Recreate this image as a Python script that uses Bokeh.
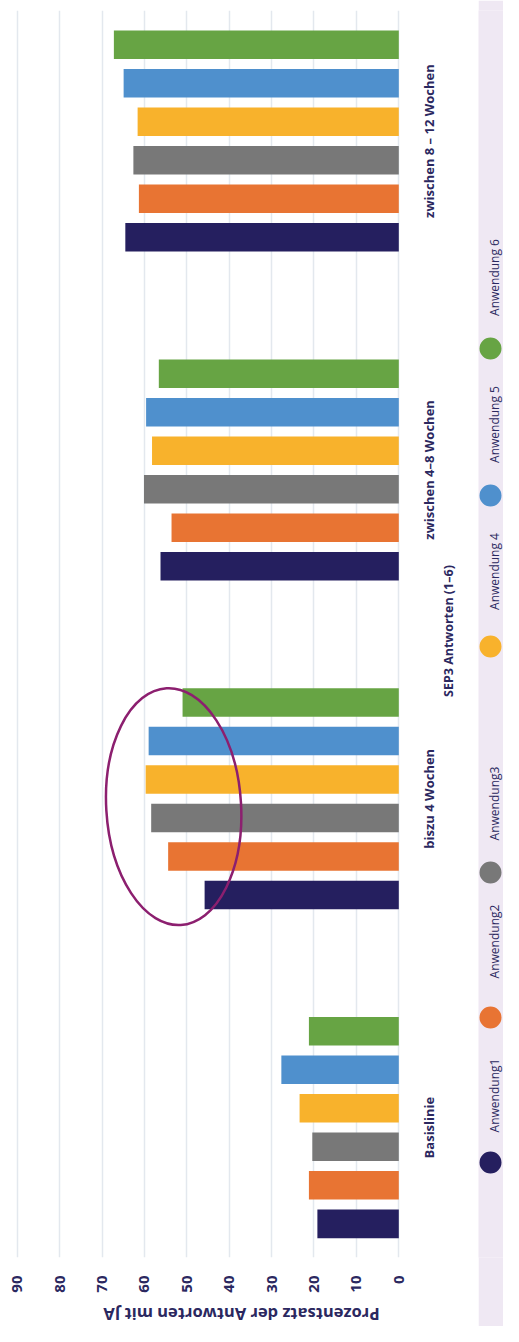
import math
from bokeh.plotting import figure
from bokeh.models import Range1d, FixedTicker, ColumnDataSource
from bokeh.layouts import row, column
from bokeh.embed import file_html
from bokeh.resources import INLINE
from bokeh.core.properties import value

# ---------------- data ----------------
categories = ["Basislinie", "biszu 4 Wochen", "zwischen 4–8 Wochen", "zwischen 8 – 12 Wochen"]
series_names = ["Anwendung1", "Anwendung2", "Anwendung3", "Anwendung 4", "Anwendung 5", "Anwendung 6"]
anwendung1 = [19.2, 45.8, 56.2, 64.5]
anwendung2 = [21.2, 54.4, 53.6, 61.3]
anwendung3 = [20.4, 58.4, 60.1, 62.6]
anwendung4 = [23.4, 59.7, 58.2, 61.6]
anwendung5 = [27.7, 59.0, 59.6, 64.9]
anwendung6 = [21.2, 51.0, 56.6, 67.2]
value_ticks = [0, 10, 20, 30, 40, 50, 60, 70, 80, 90]
x_title = "SEP3  Antworten (1–6)"
y_title = "Prozentsatz der Antworten mit JA"

# ---------------- styles / layout ----------------
series_values = [anwendung1, anwendung2, anwendung3, anwendung4, anwendung5, anwendung6]
colors = ["#251f5f", "#e87433", "#787878", "#f8b22c", "#4f90cd", "#67a444"]
TEXT = "#2b2860"
LAVENDER = "#efe8f3"
FONT = "Open Sans"

BAR_STEP = 0.1171
BAR_H = 0.0867
TOP_B, BOT_B = 10, 45
ROW_H = 1302
BOTTOM_H = 24
y_rng = Range1d(-0.395, 3.397)

# ---------------- main plot ----------------
p = figure(width=410, height=ROW_H, output_backend="svg", toolbar_location=None,
           x_range=Range1d(93.94, -2.76), y_range=y_rng, y_axis_type=None,
           min_border=0, min_border_left=0, min_border_top=TOP_B, min_border_right=0,
           min_border_bottom=BOT_B)
p.background_fill_color = "white"
p.border_fill_color = "white"
p.outline_line_color = None

for i, (name, vals, col) in enumerate(zip(series_names, series_values, colors)):
    ys = [g + (i - 2.5) * BAR_STEP for g in range(len(categories))]
    src = ColumnDataSource(dict(y=ys, v=vals))
    p.hbar(y="y", left=0, right="v", height=BAR_H, source=src,
           fill_color=col, line_color=None)

# highlight ellipse around "biszu 4 Wochen"
hl_group = categories.index("biszu 4 Wochen")
p.ellipse(x=[53.1], y=[hl_group - 0.024], width=[31.8], height=[0.721], angle=0.06,
          fill_color=None, line_color="#8c1f6f", line_width=2.5)

# value axis (bottom)
p.xaxis.ticker = FixedTicker(ticks=value_ticks)
p.xgrid.ticker = FixedTicker(ticks=value_ticks)
p.xaxis.major_label_orientation = math.pi / 2
p.xaxis.major_label_text_font = FONT
p.xaxis.major_label_text_font_size = "15px"
p.xaxis.major_label_text_font_style = "bold"
p.xaxis.major_label_text_color = TEXT
p.xaxis.major_label_standoff = 12
p.xaxis.axis_line_color = None
p.xaxis.major_tick_line_color = None
p.xaxis.minor_tick_line_color = None
p.xgrid.grid_line_color = "#e3e8ee"
p.xgrid.grid_line_width = 1.5

# ---------------- category label strip (shares the y scale) ----------------
cat = figure(width=68, height=ROW_H, output_backend="svg", toolbar_location=None,
             x_range=Range1d(410, 478), y_range=y_rng,
             x_axis_type=None, y_axis_type=None, min_border=0,
             min_border_left=0, min_border_right=0, min_border_top=TOP_B,
             min_border_bottom=BOT_B)
cat.background_fill_color = "white"
cat.border_fill_color = "white"
cat.outline_line_color = None
cat.grid.visible = False
cat.text(x=[428] * len(categories), y=list(range(len(categories))), text=categories,
         angle=math.pi / 2, text_align="center", text_baseline="middle",
         text_font=value(FONT), text_font_size="13px", text_font_style="bold",
         text_color=TEXT)
cat.text(x=[448], y=[1.515], text=[x_title], angle=math.pi / 2,
         text_align="center", text_baseline="middle",
         text_font=value(FONT), text_font_size="12.5px", text_font_style="bold",
         text_color=TEXT)

# ---------------- bottom strip with the value-axis title ----------------
bt = figure(width=478, height=BOTTOM_H, output_backend="svg", toolbar_location=None,
            x_range=Range1d(0, 478), y_range=Range1d(ROW_H + BOTTOM_H, ROW_H),
            x_axis_type=None, y_axis_type=None, min_border=0,
            min_border_left=0, min_border_right=0, min_border_top=0, min_border_bottom=0)
bt.background_fill_color = "white"
bt.border_fill_color = "white"
bt.outline_line_color = None
bt.grid.visible = False
bt.text(x=[241], y=[ROW_H + BOTTOM_H / 2], text=[y_title], angle=math.pi,
        text_align="center", text_baseline="middle",
        text_font=value(FONT), text_font_size="16.5px", text_font_style="bold",
        text_color=TEXT)

# ---------------- legend strip (full height) ----------------
lg = figure(width=25, height=ROW_H + BOTTOM_H, output_backend="svg", toolbar_location=None,
            x_range=Range1d(478, 503), y_range=Range1d(1257, 10),
            x_axis_type=None, y_axis_type=None, min_border=0,
            min_border_left=0, min_border_right=0, min_border_top=TOP_B,
            min_border_bottom=BOT_B + BOTTOM_H)
lg.background_fill_color = LAVENDER
lg.border_fill_color = LAVENDER
lg.outline_line_color = None
lg.grid.visible = False

legend_marker_y = [1162, 1017, 872, 646, 495, 348]
legend_text_y = [1095, 941, 803, 571, 424, 277]
lg.scatter(x=[490] * 6, y=legend_marker_y, size=22, marker="circle",
           fill_color=colors, line_color=None)
lg.text(x=[494] * 6, y=legend_text_y, text=series_names, angle=math.pi / 2,
        text_align="center", text_baseline="alphabetic",
        text_font=value(FONT), text_font_size="12px", text_color=TEXT)

layout = row(column(row(p, cat, spacing=0), bt, spacing=0), lg, spacing=0)
open("out.html", "w").write(file_html(layout, INLINE))
